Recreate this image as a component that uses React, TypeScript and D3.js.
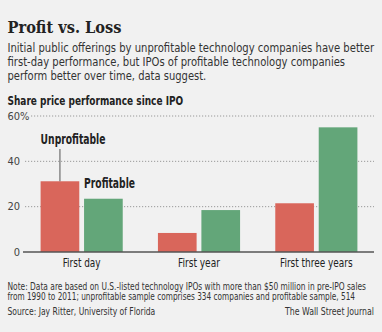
import React, { useLayoutEffect, useRef, useState } from "react";
import * as d3 from "d3";

const categories = ["First day", "First year", "First three years"];
const seriesNames = ["Unprofitable", "Profitable"];
const unprofitable = [31.2, 8.4, 21.5];
const profitable = [23.5, 18.5, 55];
const yTicks = [0, 20, 40, 60];
const titleText = "Profit vs. Loss";
const subtitleLines = [
  "Initial public offerings by unprofitable technology companies have better",
  "first-day performance, but IPOs of profitable technology companies",
  "perform better over time, data suggest.",
];
const chartLabel = "Share price performance since IPO";
const noteLines = [
  "Note: Data are based on U.S.-listed technology IPOs with more than $50 million in pre-IPO sales",
  "from 1990 to 2011; unprofitable sample comprises 334 companies and profitable sample, 514",
];
const sourceText = "Source: Jay Ritter, University of Florida";
const creditText = "The Wall Street Journal";

const W = 382;
const H = 332;
const colors = ["#d9665b", "#63a679"];
const font = "'DejaVu Sans Condensed', 'DejaVu Sans', sans-serif";
const serif = "'DejaVu Serif Condensed', 'DejaVu Serif', serif";

const subtitleWidths = [367, 338, 199];
const noteWidths = [359, 348];
const catWidths = [38, 42, 72.7];

type FitProps = {
  x: number;
  y: number;
  width: number;
  anchor?: "start" | "middle" | "end";
  children: string;
  [k: string]: any;
};

function FitText({ x, y, width, anchor = "start", children, ...rest }: FitProps) {
  const ref = useRef<SVGTextElement>(null);
  const [s, setS] = useState(1);
  useLayoutEffect(() => {
    if (ref.current) {
      const n = ref.current.getComputedTextLength();
      if (n > 0) setS(width / n);
    }
  }, [width, children]);
  const tx = anchor === "end" ? x - width : anchor === "middle" ? x - width / 2 : x;
  return (
    <text ref={ref} transform={`translate(${tx},${y}) scale(${s},1)`} x={0} y={0} {...rest}>
      {children}
    </text>
  );
}

export default function App() {
  const x0 = d3.scaleBand<string>().domain(categories).range([23, 375]).paddingInner(0.3).paddingOuter(0.15);
  const x1 = d3.scaleBand<string>().domain(seriesNames).range([0, x0.bandwidth()]).paddingInner(0.11);
  const y = d3.scaleLinear().domain([0, 60]).range([252, 116]);
  const series = [unprofitable, profitable];

  const firstUnprofX = (x0(categories[0]) ?? 0) + (x1(seriesNames[0]) ?? 0);
  const firstProfX = (x0(categories[0]) ?? 0) + (x1(seriesNames[1]) ?? 0);
  const leaderX = firstUnprofX + x1.bandwidth() / 2;

  return (
    <div style={{ position: "absolute", left: 0, top: 0 }}>
      <svg width={W} height={H} style={{ display: "block" }}>
        <rect width={W} height={H} fill="#f1f1f1" />
        <FitText x={7.5} y={32.7} width={114} fontFamily={serif} fontWeight="bold" fontSize={17} fill="#222">
          {titleText}
        </FitText>
        {subtitleLines.map((l, i) => (
          <FitText key={i} x={7.5} y={52 + i * 14.2} width={subtitleWidths[i]} fontFamily={font} fontSize={12.5} fill="#333">
            {l}
          </FitText>
        ))}
        <FitText x={7.5} y={104.5} width={176} fontFamily={font} fontSize={12.5} fontWeight="bold" fill="#222">
          {chartLabel}
        </FitText>
        {yTicks.map((t) => (
          <g key={t}>
            {t > 0 && (
              <line
                x1={t === 60 ? 31 : 25}
                x2={374}
                y1={y(t)}
                y2={y(t)}
                stroke="#999"
                strokeWidth={1}
                strokeDasharray="1.2,1.8"
              />
            )}
            <text x={20} y={y(t) + 3.7} textAnchor="end" fontFamily={font} fontSize={11} fill="#444">
              {t}
            </text>
            {t === 60 && (
              <text x={20} y={y(t) + 3.7} fontFamily={font} fontSize={11} fill="#444">%</text>
            )}
          </g>
        ))}
        {categories.map((c, ci) => (
          <g key={c}>
            {series.map((s, si) => (
              <rect
                key={si}
                x={(x0(c) ?? 0) + (x1(seriesNames[si]) ?? 0)}
                y={y(s[ci])}
                width={x1.bandwidth()}
                height={y(0) - y(s[ci])}
                fill={colors[si]}
              />
            ))}
            <FitText
              x={(x0(c) ?? 0) + x0.bandwidth() / 2}
              y={266.7}
              width={catWidths[ci]}
              anchor="middle"
              fontFamily={font}
              fontSize={11.5}
              fill="#222"
            >
              {c}
            </FitText>
          </g>
        ))}
        <line x1={23} x2={374} y1={y(0)} y2={y(0)} stroke="#555" strokeWidth={1.5} />
        <line x1={leaderX} x2={leaderX} y1={149} y2={y(unprofitable[0])} stroke="#555" strokeWidth={1} />
        <FitText x={firstUnprofX} y={144} width={65} fontFamily={font} fontSize={13.5} fontWeight="bold" fill="#222">
          {seriesNames[0]}
        </FitText>
        <FitText x={firstProfX} y={188} width={51} fontFamily={font} fontSize={13.5} fontWeight="bold" fill="#222">
          {seriesNames[1]}
        </FitText>
        {noteLines.map((l, i) => (
          <FitText key={i} x={7.5} y={290 + i * 10.3} width={noteWidths[i]} fontFamily={font} fontSize={10} fill="#333">
            {l}
          </FitText>
        ))}
        <FitText x={7.5} y={314.7} width={148} fontFamily={font} fontSize={10} fill="#333">
          {sourceText}
        </FitText>
        <FitText x={374} y={314.7} width={89} anchor="end" fontFamily={font} fontSize={10} fill="#333">
          {creditText}
        </FitText>
      </svg>
    </div>
  );
}
